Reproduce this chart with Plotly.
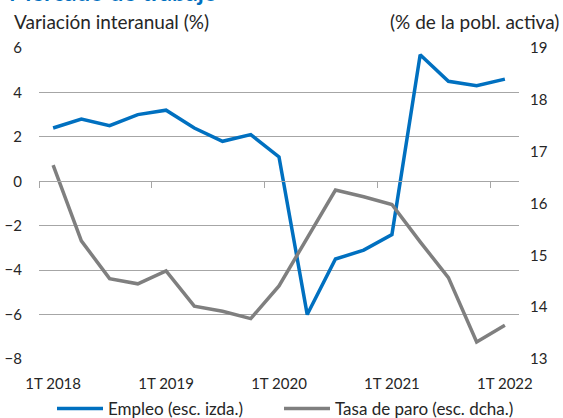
import plotly.graph_objects as go

quarters = ["1T 2018", "2T 2018", "3T 2018", "4T 2018",
            "1T 2019", "2T 2019", "3T 2019", "4T 2019",
            "1T 2020", "2T 2020", "3T 2020", "4T 2020",
            "1T 2021", "2T 2021", "3T 2021", "4T 2021",
            "1T 2022"]
empleo = [2.4, 2.8, 2.5, 3.0, 3.2, 2.4, 1.8, 2.1, 1.1, -6.0, -3.5, -3.1, -2.4, 5.7, 4.5, 4.3, 4.6]
paro = [16.74, 15.28, 14.55, 14.45, 14.70, 14.02, 13.92, 13.78, 14.41, 15.33, 16.26, 16.13, 15.98, 15.26, 14.57, 13.33, 13.65]
label_every = 4
left_range = [-8, 6]
right_range = [13, 19]

FONT = "Lato"
TXT = "#262626"
GRID = "#a6a6a6"
BLUE = "#0070c0"
GRAY = "#7f7f7f"

W, H = 563, 418
ML, MR, MT, MB = 39, 44, 48, 59
PW, PH = W - ML - MR, H - MT - MB

idx = list(range(len(quarters)))
tick_idx = idx[::label_every]
boundaries = [i - 0.5 for i in tick_idx]

fig = go.Figure()
fig.add_trace(go.Scatter(x=idx, y=empleo, mode="lines", name="Empleo (esc. izda.)",
                         line=dict(color=BLUE, width=3.5), yaxis="y", legend="legend"))
fig.add_trace(go.Scatter(x=idx, y=paro, mode="lines", name="Tasa de paro (esc. dcha.)",
                         line=dict(color=GRAY, width=3.5), yaxis="y2", legend="legend2"))
fig.add_trace(go.Scatter(x=[None], y=[None], xaxis="x2", showlegend=False, hoverinfo="skip"))

zero_pos = (0 - left_range[0]) / (left_range[1] - left_range[0])

legend_common = dict(orientation="h", xanchor="left", xref="container",
                     y=1 - 409 / H, yanchor="middle", yref="container",
                     font=dict(size=17, color=TXT), itemwidth=46,
                     bgcolor="rgba(0,0,0,0)")

fig.update_layout(
    width=W, height=H,
    margin=dict(l=ML, r=MR, t=MT, b=MB, autoexpand=False),
    paper_bgcolor="white", plot_bgcolor="white",
    font=dict(family=FONT, size=15, color=TXT),
    xaxis=dict(range=[-0.5, len(quarters) - 0.5], tickmode="array",
               tickvals=tick_idx, ticktext=[quarters[i] for i in tick_idx],
               showgrid=False, zeroline=False, showline=False, ticks="",
               ticklabelstandoff=14, tickfont=dict(size=15, color=TXT)),
    xaxis2=dict(range=[-0.5, len(quarters) - 0.5], overlaying="x", anchor="free",
                position=zero_pos, tickmode="array", tickvals=boundaries,
                showticklabels=False, ticks="outside", ticklen=6, tickcolor=GRID,
                showline=True, linecolor=GRID, linewidth=1, showgrid=False, zeroline=False),
    yaxis=dict(range=left_range, dtick=2, showgrid=True, gridcolor=GRID, gridwidth=1,
               zeroline=False, showline=False, ticks="", ticklabelstandoff=16,
               tickfont=dict(size=15, color=TXT)),
    yaxis2=dict(range=right_range, dtick=1, overlaying="y", side="right",
                showgrid=False, zeroline=False, showline=False, ticks="",
                ticklabelstandoff=10, tickfont=dict(size=15, color=TXT)),
    legend=dict(x=52 / W, **legend_common),
    legend2=dict(x=279 / W, **legend_common),
    showlegend=True,
)

fig.add_annotation(text="Variación interanual (%)", xref="paper", yref="paper",
                   x=-(ML - 12) / PW, y=(PH + 26) / PH, xanchor="left", yanchor="middle",
                   showarrow=False, font=dict(size=19, color=TXT))
fig.add_annotation(text="(% de la pobl. activa)", xref="paper", yref="paper",
                   x=(PW + 42) / PW, y=(PH + 26) / PH, xanchor="right", yanchor="middle",
                   showarrow=False, font=dict(size=19, color=TXT))
fig.add_annotation(text="<b>Mercado de trabajo</b>", xref="paper", yref="paper",
                   x=-(ML - 7) / PW, y=(PH + 40) / PH, xanchor="left", yanchor="bottom",
                   showarrow=False, font=dict(size=24, color=BLUE))

fig.write_html("out.html", config={"displayModeBar": False},
               post_script="document.body.style.margin='0';document.body.style.padding='0';")
